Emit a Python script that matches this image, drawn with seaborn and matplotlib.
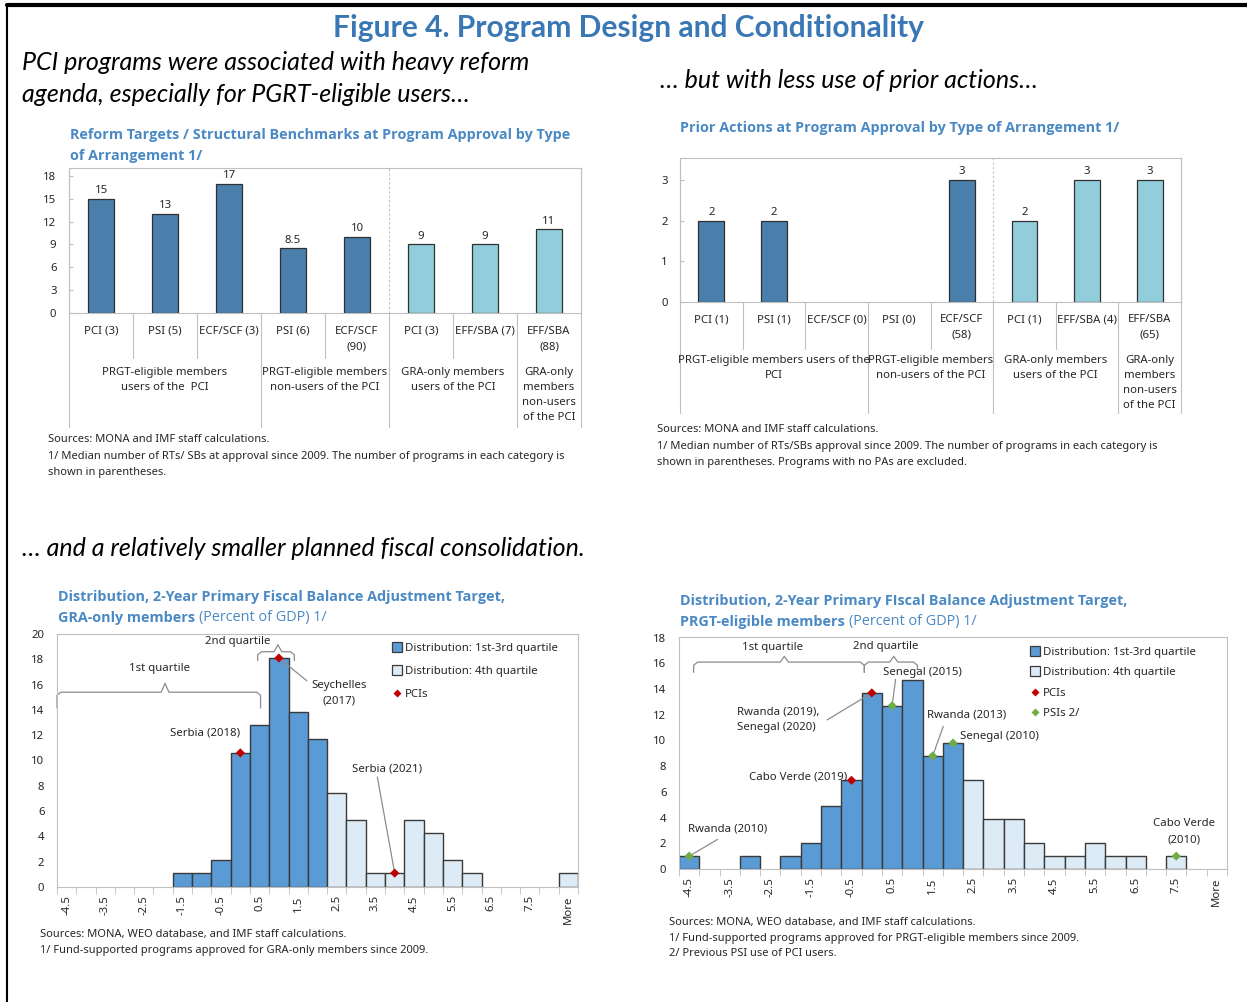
import numpy as np
import pandas as pd
import matplotlib
matplotlib.use("Agg")
import matplotlib.pyplot as plt
import matplotlib.transforms as mtransforms
from matplotlib.lines import Line2D
import seaborn as sns

# ---------------- data ----------------
# top-left: median number of RTs/SBs at approval
rt_cats = ["PCI (3)", "PSI (5)", "ECF/SCF (3)", "PSI (6)", "ECF/SCF\n(90)",
           "PCI (3)", "EFF/SBA (7)", "EFF/SBA\n(88)"]
rt_vals = [15, 13, 17, 8.5, 10, 9, 9, 11]
rt_groups = ["PRGT-eligible members\nusers of the  PCI",
             "PRGT-eligible members\nnon-users of the PCI",
             "GRA-only members\nusers of the PCI",
             "GRA-only\nmembers\nnon-users\nof the PCI"]
rt_yticks = [0, 3, 6, 9, 12, 15, 18]

# top-right: median number of prior actions
pa_cats = ["PCI (1)", "PSI (1)", "ECF/SCF (0)", "PSI (0)", "ECF/SCF\n(58)",
           "PCI (1)", "EFF/SBA (4)", "EFF/SBA\n(65)"]
pa_vals = [2, 2, 0, 0, 3, 2, 3, 3]
pa_groups = ["PRGT-eligible members users of the\nPCI",
             "PRGT-eligible members\nnon-users of the PCI",
             "GRA-only members\nusers of the PCI",
             "GRA-only\nmembers\nnon-users\nof the PCI"]
pa_yticks = [0, 1, 2, 3]

bar_kind = ["PRGT", "PRGT", "PRGT", "PRGT", "PRGT", "GRA", "GRA", "GRA"]
group_spans = [(0, 2), (3, 4), (5, 6), (7, 7)]

# bottom: distribution of 2-year primary balance adjustment target (percent of programs)
bins = ["-4.5", "-4", "-3.5", "-3", "-2.5", "-2", "-1.5", "-1", "-0.5", "0",
        "0.5", "1", "1.5", "2", "2.5", "3", "3.5", "4", "4.5", "5",
        "5.5", "6", "6.5", "7", "7.5", "8", "More"]
quart = ["q13"] * 14 + ["q4"] * 13
gra_pct = [0, 0, 0, 0, 0, 0, 1.1, 1.1, 2.1, 10.6,
           12.8, 18.1, 13.8, 11.7, 7.4, 5.3, 1.1, 1.1, 5.3, 4.3,
           2.1, 1.1, 0, 0, 0, 0, 1.1]
prgt_pct = [1.0, 0, 0, 1.0, 0, 1.0, 2.0, 4.9, 6.9, 13.7,
            12.7, 14.7, 8.8, 9.8, 6.9, 3.9, 3.9, 2.0, 1.0, 1.0,
            2.0, 1.0, 1.0, 0, 1.0, 0, 0]
gra_pci_bins = ["0", "1", "4"]
gra_pci_pct = [10.6, 18.1, 1.1]
prgt_pci_bins = ["-0.5", "0"]
prgt_pci_pct = [6.9, 13.7]
prgt_psi_bins = ["-4.5", "0.5", "1.5", "2", "7.5"]
prgt_psi_pct = [1.0, 12.7, 8.8, 9.8, 1.0]

# ---------------- style ----------------
W, H = 1247, 1002
DARK = "#4A7EAB"
LIGHT = "#92CDDC"
HBLUE = "#5B9BD5"
HLIGHT = "#DDEBF7"
EDGE = "#3A3A3A"
GRID = "#BFBFBF"
RED = "#C00000"
GREEN = "#70AD47"
TITLE = "#3A78B5"
CTITLE = "#4A89C4"
LEAD = "#8C8C8C"
TXT = "#262626"
FS = 8.2
CFS = 10.4
BOLDFONT = ["Open Sans", "Lato", "DejaVu Sans"]

sns.set_style("white")
plt.rcParams["font.family"] = ["Noto Sans", "DejaVu Sans"]
plt.rcParams["text.color"] = TXT
plt.rcParams["xtick.color"] = TXT
plt.rcParams["ytick.color"] = TXT

fig = plt.figure(figsize=(W / 100, H / 100), dpi=100)
renderer = fig.canvas.get_renderer()


def fx(x):
    return x / W


def fy(y):
    return 1 - y / H


def ftext(x, y, s, **kw):
    kw.setdefault("va", "center")
    kw.setdefault("ha", "left")
    return fig.text(fx(x), fy(y), s, **kw)


def ctitle(x, y, s):
    return ftext(x, y, s, fontsize=CFS, fontweight="bold", color=CTITLE, family=BOLDFONT)


def mixed(x, y, bold, normal):
    t = ctitle(x, y, bold)
    bb = t.get_window_extent(renderer)
    ftext(bb.x1 + 4, y, normal, fontsize=CFS, color=CTITLE, family=BOLDFONT)


# page frame
fig.add_artist(Line2D([fx(7), 1], [fy(5), fy(5)], transform=fig.transFigure, color="black", lw=3))
fig.add_artist(Line2D([fx(7), fx(7)], [fy(5), 0], transform=fig.transFigure, color="black", lw=1.5))

# headings
ftext(628, 28, "Figure 4. Program Design and Conditionality", ha="center",
      fontsize=21.6, fontweight="bold", color=TITLE, family=["Lato", "DejaVu Sans"])
sub = dict(fontsize=18, style="italic", color="black", family=["Lato", "DejaVu Sans"])
ftext(22, 63, "PCI programs were associated with heavy reform", **sub)
ftext(22, 95, "agenda, especially for PGRT-eligible users\u2026", **sub)
ftext(660, 80, "\u2026 but with less use of prior actions\u2026", **sub)
ftext(22, 548, "\u2026 and a relatively smaller planned fiscal consolidation.", **sub)


# ---------------- top bar charts ----------------
def cat_chart(box, vals, cats, groups, ymax, yticks, cat_y, grp_y, short_y, full_y, lab_off):
    x0, y0, x1, y1 = box
    ax = fig.add_axes([fx(x0), fy(y1), (x1 - x0) / W, (y1 - y0) / H])
    n = len(vals)
    df = pd.DataFrame({"pos": range(n), "val": vals, "kind": bar_kind})
    sns.barplot(data=df[df["val"] > 0], x="pos", y="val", hue="kind",
                order=list(range(n)), hue_order=["PRGT", "GRA"],
                palette={"PRGT": DARK, "GRA": LIGHT}, dodge=False, width=0.41,
                saturation=1, edgecolor="#303030", linewidth=0.9,
                errorbar=None, legend=False, ax=ax)
    ax.set_xlim(-0.5, n - 0.5)
    ax.set_ylim(0, ymax)
    ax.set_yticks(yticks)
    ax.set_xticks([])
    ax.set_xlabel("")
    ax.set_ylabel("")
    for s in ax.spines.values():
        s.set_color(GRID)
        s.set_linewidth(0.8)
    ax.tick_params(axis="y", labelsize=FS, length=3, direction="in", color=GRID,
                   left=True, pad=9)
    ax.plot([4.5, 4.5], [0, ymax], ls=(0, (2, 2)), color=GRID, lw=0.8)

    def frac(ypx):
        return (y1 - ypx) / (y1 - y0)

    tr = mtransforms.blended_transform_factory(ax.transData, ax.transAxes)
    for i, (c, v) in enumerate(zip(cats, vals)):
        ax.text(i, frac(cat_y), c, transform=tr, ha="center", va="top",
                fontsize=FS, linespacing=1.52, clip_on=False)
        if v > 0:
            ax.text(i, v + lab_off, f"{v:g}", ha="center", va="bottom", fontsize=FS)
    starts = [s for s, e in group_spans]
    for k in range(1, n):
        bottom = full_y if k in starts else short_y
        ax.plot([k - 0.5] * 2, [0, frac(bottom)], transform=tr, color=GRID,
                lw=0.8, clip_on=False)
    for xb in (-0.5, n - 0.5):
        ax.plot([xb] * 2, [1, frac(full_y)], transform=tr, color=GRID,
                lw=0.8, clip_on=False)
    for (s, e), g in zip(group_spans, groups):
        ax.text((s + e) / 2, frac(grp_y), g, transform=tr, ha="center", va="top",
                fontsize=FS, linespacing=1.52, clip_on=False)
    return ax


ctitle(70, 135, "Reform Targets / Structural Benchmarks at Program Approval by Type")
ctitle(70, 156, "of Arrangement 1/")
cat_chart((69, 168, 581, 313), rt_vals, rt_cats, rt_groups, 19.05, rt_yticks,
          326, 367, 358, 427, 0.35)
foot = dict(fontsize=8)
ftext(48, 440, "Sources: MONA and IMF staff calculations.", **foot)
ftext(48, 456, "1/ Median number of RTs/ SBs at approval since 2009. The number of programs in each category is", **foot)
ftext(48, 472, "shown in parentheses.", **foot)

ctitle(680, 128, "Prior Actions at Program Approval by Type of Arrangement 1/")
cat_chart((680, 158, 1181, 302), pa_vals, pa_cats, pa_groups, 3.54, pa_yticks,
          314, 355, 349, 413, 0.07)
ftext(657, 430, "Sources: MONA and IMF staff calculations.", **foot)
ftext(657, 446, "1/ Median number of RTs/SBs approval since 2009. The number of programs in each category is", **foot)
ftext(657, 462, "shown in parentheses. Programs with no PAs are excluded.", **foot)


# ---------------- bottom histograms ----------------
def hist_chart(box, pct, ymax, yticks):
    x0, y0, x1, y1 = box
    ax = fig.add_axes([fx(x0), fy(y1), (x1 - x0) / W, (y1 - y0) / H])
    n = len(bins)
    df = pd.DataFrame({"pos": range(n), "pct": pct, "q": quart})
    sns.barplot(data=df[df["pct"] > 0], x="pos", y="pct", hue="q",
                order=list(range(n)), hue_order=["q13", "q4"],
                palette={"q13": HBLUE, "q4": HLIGHT}, dodge=False, width=1.0,
                saturation=1, edgecolor=EDGE, linewidth=1.0,
                errorbar=None, legend=False, ax=ax)
    ax.set_xlim(-0.5, n - 0.5)
    ax.set_ylim(0, ymax)
    ax.set_yticks(yticks)
    ax.set_xticks(range(0, n, 2))
    ax.set_xticklabels(bins[::2], rotation=90)
    ax.set_xticks(np.arange(-0.5, n, 1), minor=True)
    ax.tick_params(axis="x", which="major", length=0, pad=6, labelsize=FS, bottom=True)
    ax.tick_params(axis="x", which="minor", length=5, color=GRID, bottom=True)
    ax.tick_params(axis="y", length=0, pad=9, labelsize=FS)
    ax.set_xlabel("")
    ax.set_ylabel("")
    for s in ax.spines.values():
        s.set_color(GRID)
        s.set_linewidth(0.8)
    return ax


def brace(ax, x0, x1, xm, y, ylow, ytip, ylow2=None):
    if ylow2 is None:
        ylow2 = ylow
    xs = [x0, x0, x0 + 0.2, xm - 0.2, xm, xm + 0.2, x1 - 0.2, x1, x1]
    ys = [ylow, y - 0.25, y, y, ytip, y, y, y - 0.25, ylow2]
    ax.plot(xs, ys, color=LEAD, lw=0.9, clip_on=False)


def markers(ax, blist, vals, color):
    sns.scatterplot(x=[bins.index(b) for b in blist], y=vals, marker="D", s=22,
                    color=color, edgecolor="none", zorder=5, ax=ax, legend=False)


def hist_legend(ax, x, y, entries, spacing):
    handles = []
    for lab, kind, col in entries:
        if kind == "sq":
            h = Line2D([], [], ls="", marker="s", markersize=7, markerfacecolor=col,
                       markeredgecolor=EDGE, markeredgewidth=0.9, label=lab)
        else:
            h = Line2D([], [], ls="", marker="D", markersize=4.5, markerfacecolor=col,
                       markeredgecolor="none", label=lab)
        handles.append(h)
    ax.legend(handles=handles, loc="upper left", bbox_to_anchor=(fx(x), fy(y)),
              bbox_transform=fig.transFigure, frameon=False, fontsize=FS,
              handlelength=0.8, handletextpad=0.35, labelspacing=spacing, borderpad=0,
              borderaxespad=0)


ann = dict(fontsize=FS, ha="center", va="center")

# bottom-left: GRA-only members
ctitle(58, 597, "Distribution, 2-Year Primary Fiscal Balance Adjustment Target,")
mixed(58, 618, "GRA-only members", "(Percent of GDP) 1/")
ax3 = hist_chart((57, 634, 578, 887), gra_pct, 20, list(range(0, 21, 2)))
markers(ax3, gra_pci_bins, gra_pci_pct, RED)
brace(ax3, -0.5, 10.05, 5.1, 15.4, 14.15, 16.1)
ax3.text(4.8, 17.3, "1st quartile", **ann)
brace(ax3, 9.9, 11.8, 10.95, 18.6, 17.9, 19.15)
ax3.text(8.85, 19.4, "2nd quartile", **ann)
ax3.plot([11, 12.45], [18.1, 16.3], color=LEAD, lw=0.9)
ax3.text(14.1, 15.95, "Seychelles", **ann)
ax3.text(14.1, 14.7, "(2017)", **ann)
ax3.text(7.15, 12.2, "Serbia (2018)", **ann)
ax3.plot([16.1, 17], [8.7, 1.1], color=LEAD, lw=0.9)
ax3.text(16.6, 9.3, "Serbia (2021)", **ann)
hist_legend(ax3, 392, 643, [("Distribution: 1st-3rd quartile", "sq", HBLUE),
                            ("Distribution: 4th quartile", "sq", HLIGHT),
                            ("PCIs", "d", RED)], 1.05)
ftext(40, 934, "Sources: MONA, WEO database, and IMF staff calculations.", **foot)
ftext(40, 950, "1/ Fund-supported programs approved for GRA-only members since 2009.", **foot)

# bottom-right: PRGT-eligible members
ctitle(680, 601, "Distribution, 2-Year Primary FIscal Balance Adjustment Target,")
mixed(680, 622, "PRGT-eligible members", "(Percent of GDP) 1/")
ax4 = hist_chart((679, 637, 1227, 869), prgt_pct, 18.05, list(range(0, 19, 2)))
markers(ax4, prgt_pci_bins, prgt_pci_pct, RED)
markers(ax4, prgt_psi_bins, prgt_psi_pct, GREEN)
brace(ax4, 0.22, 8.63, 4.69, 16.1, 15.3, 16.55)
ax4.text(4.1, 17.2, "1st quartile", **ann)
brace(ax4, 8.63, 11.25, 10.08, 16.1, 15.3, 16.55, 15.5)
ax4.text(9.66, 17.3, "2nd quartile", **ann)
ax4.plot([10, 10.17], [12.7, 14.75], color=LEAD, lw=0.9)
ax4.text(11.5, 15.27, "Senegal (2015)", **ann)
ax4.plot([9, 6.8], [13.7, 11.6], color=LEAD, lw=0.9)
ax4.text(2.36, 12.23, "Rwanda (2019),", fontsize=FS, ha="left", va="center")
ax4.text(2.36, 11.0, "Senegal (2020)", fontsize=FS, ha="left", va="center")
ax4.plot([12, 12.52], [8.8, 11.1], color=LEAD, lw=0.9)
ax4.text(13.66, 12.0, "Rwanda (2013)", **ann)
ax4.text(15.29, 10.34, "Senegal (2010)", **ann)
ax4.text(5.38, 7.17, "Cabo Verde (2019)", **ann)
ax4.plot([0, 1.4], [1.0, 2.3], color=LEAD, lw=0.9)
ax4.text(1.89, 3.14, "Rwanda (2010)", **ann)
ax4.text(24.36, 3.53, "Cabo Verde", **ann)
ax4.text(24.36, 2.29, "(2010)", **ann)
hist_legend(ax4, 1030, 647, [("Distribution: 1st-3rd quartile", "sq", HBLUE),
                             ("Distribution: 4th quartile", "sq", HLIGHT),
                             ("PCIs", "d", RED),
                             ("PSIs 2/", "d", GREEN)], 0.82)
ftext(669, 922, "Sources: MONA, WEO database, and IMF staff calculations.", **foot)
ftext(669, 938, "1/ Fund-supported programs approved for PRGT-eligible members since 2009.", **foot)
ftext(669, 954, "2/ Previous PSI use of PCI users.", **foot)

fig.savefig("out.png", dpi=100)
